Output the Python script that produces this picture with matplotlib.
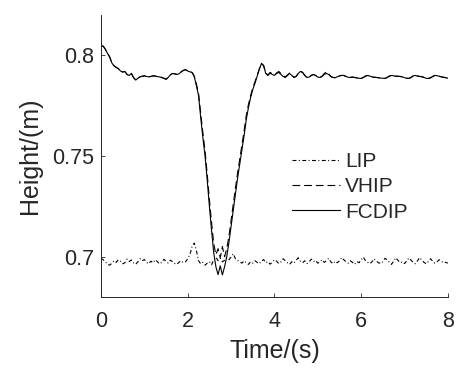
import numpy as np
import matplotlib
matplotlib.use('Agg')
import matplotlib.pyplot as plt

plt.rcParams['font.family'] = ['Liberation Sans', 'DejaVu Sans']

# time grid, 0.05 s steps from 0 to 8 s
t = np.round(np.arange(161) * 0.05, 2)

lip = [
    0.6993, 0.6985, 0.6975, 0.6962, 0.6958, 0.6968, 0.6980, 0.6972, 0.6985, 0.6978,
    0.6965, 0.6970, 0.6988, 0.6976, 0.6984, 0.6970, 0.6962, 0.6975, 0.6990, 0.6980,
    0.6986, 0.6972, 0.6965, 0.6978, 0.6970, 0.6985, 0.6976, 0.6964, 0.6972, 0.6987,
    0.6978, 0.6968, 0.6983, 0.6975, 0.6966, 0.6962, 0.6973, 0.6980, 0.6970, 0.6975,
    0.6990, 0.7010, 0.7050, 0.7068, 0.7030, 0.6980, 0.6965, 0.6972, 0.6958, 0.6968,
    0.6975, 0.6960, 0.6985, 0.6998, 0.6980, 0.6992, 0.6975, 0.6982, 0.6996, 0.6985,
    0.6998, 0.7015, 0.6990, 0.6982, 0.6975, 0.6968, 0.6980, 0.6970, 0.6962, 0.6975,
    0.6968, 0.6980, 0.6972, 0.6965, 0.6978, 0.6986, 0.6970, 0.6976, 0.6963, 0.6972,
    0.6985, 0.6978, 0.6966, 0.6974, 0.6990, 0.6980, 0.6970, 0.6962, 0.6975, 0.6968,
    0.6982, 0.6995, 0.6978, 0.6970, 0.6980, 0.6966, 0.6975, 0.6988, 0.6976, 0.6982,
    0.6968, 0.6975, 0.6985, 0.6972, 0.6980, 0.6992, 0.6975, 0.6965, 0.6978, 0.6970,
    0.6980, 0.6996, 0.6985, 0.6975, 0.6968, 0.6980, 0.6972, 0.6962, 0.6976, 0.6970,
    0.6985, 0.6998, 0.6980, 0.6972, 0.6965, 0.6975, 0.6990, 0.6978, 0.6970, 0.6966,
    0.6975, 0.6992, 0.6985, 0.6972, 0.6962, 0.6978, 0.6995, 0.6982, 0.6970, 0.6975,
    0.6966, 0.6978, 0.6994, 0.6983, 0.6972, 0.6965, 0.6980, 0.6996, 0.6982, 0.6972,
    0.6965, 0.6976, 0.6990, 0.6978, 0.6968, 0.6975, 0.6985, 0.6978, 0.6970, 0.6972,
    0.6968,
]

vhip = [
    0.8045, 0.8046, 0.8030, 0.8010, 0.7992, 0.7962, 0.7948, 0.7940, 0.7934, 0.7922,
    0.7917, 0.7920, 0.7905, 0.7900, 0.7910, 0.7890, 0.7877, 0.7886, 0.7893, 0.7896,
    0.7898, 0.7895, 0.7893, 0.7895, 0.7898, 0.7897, 0.7894, 0.7893, 0.7890, 0.7886,
    0.7881, 0.7890, 0.7903, 0.7910, 0.7908, 0.7905, 0.7908, 0.7918, 0.7925, 0.7929,
    0.7922, 0.7918, 0.7915, 0.7897, 0.7858, 0.7810, 0.7710, 0.7615, 0.7525, 0.7410,
    0.7285, 0.7170, 0.7065, 0.7010, 0.7040, 0.6995, 0.7050, 0.7000, 0.7040, 0.7100,
    0.7180, 0.7260, 0.7340, 0.7415, 0.7485, 0.7555, 0.7625, 0.7700, 0.7755, 0.7800,
    0.7838, 0.7868, 0.7900, 0.7932, 0.7960, 0.7948, 0.7912, 0.7902, 0.7915, 0.7908,
    0.7902, 0.7912, 0.7920, 0.7910, 0.7900, 0.7892, 0.7902, 0.7912, 0.7902, 0.7891,
    0.7895, 0.7910, 0.7920, 0.7915, 0.7900, 0.7890, 0.7892, 0.7900, 0.7905, 0.7900,
    0.7892, 0.7890, 0.7897, 0.7910, 0.7918, 0.7908, 0.7895, 0.7890, 0.7889, 0.7893,
    0.7898, 0.7900, 0.7900, 0.7895, 0.7891, 0.7890, 0.7892, 0.7890, 0.7888, 0.7886,
    0.7885, 0.7890, 0.7897, 0.7900, 0.7897, 0.7893, 0.7891, 0.7890, 0.7889, 0.7887,
    0.7886, 0.7885, 0.7890, 0.7897, 0.7900, 0.7898, 0.7896, 0.7896, 0.7895, 0.7893,
    0.7889, 0.7886, 0.7885, 0.7890, 0.7898, 0.7900, 0.7897, 0.7895, 0.7894, 0.7890,
    0.7886, 0.7885, 0.7888, 0.7895, 0.7900, 0.7899, 0.7896, 0.7893, 0.7891, 0.7889,
    0.7886,
]

fcdip = [
    0.8045, 0.8046, 0.8030, 0.8010, 0.7992, 0.7962, 0.7948, 0.7940, 0.7934, 0.7922,
    0.7917, 0.7920, 0.7905, 0.7900, 0.7910, 0.7890, 0.7877, 0.7886, 0.7893, 0.7896,
    0.7898, 0.7895, 0.7893, 0.7895, 0.7898, 0.7897, 0.7894, 0.7893, 0.7890, 0.7886,
    0.7881, 0.7890, 0.7903, 0.7910, 0.7908, 0.7905, 0.7908, 0.7918, 0.7925, 0.7929,
    0.7922, 0.7918, 0.7915, 0.7895, 0.7850, 0.7800, 0.7690, 0.7590, 0.7500, 0.7380,
    0.7250, 0.7130, 0.7020, 0.6950, 0.6911, 0.6955, 0.6910, 0.6950, 0.7000, 0.7070,
    0.7150, 0.7230, 0.7310, 0.7390, 0.7460, 0.7530, 0.7600, 0.7680, 0.7740, 0.7790,
    0.7830, 0.7860, 0.7895, 0.7930, 0.7959, 0.7950, 0.7910, 0.7900, 0.7912, 0.7905,
    0.7900, 0.7910, 0.7915, 0.7905, 0.7895, 0.7890, 0.7900, 0.7910, 0.7900, 0.7890,
    0.7895, 0.7910, 0.7920, 0.7915, 0.7900, 0.7890, 0.7892, 0.7900, 0.7905, 0.7900,
    0.7892, 0.7890, 0.7895, 0.7905, 0.7910, 0.7905, 0.7895, 0.7890, 0.7889, 0.7893,
    0.7898, 0.7900, 0.7900, 0.7895, 0.7891, 0.7890, 0.7892, 0.7890, 0.7888, 0.7886,
    0.7885, 0.7890, 0.7897, 0.7900, 0.7897, 0.7893, 0.7891, 0.7890, 0.7889, 0.7887,
    0.7886, 0.7885, 0.7890, 0.7897, 0.7900, 0.7898, 0.7896, 0.7896, 0.7895, 0.7893,
    0.7889, 0.7886, 0.7885, 0.7890, 0.7898, 0.7900, 0.7897, 0.7895, 0.7894, 0.7890,
    0.7886, 0.7885, 0.7888, 0.7895, 0.7900, 0.7899, 0.7896, 0.7893, 0.7891, 0.7889,
    0.7886,
]

xticks = [0, 2, 4, 6, 8]
yticks = [0.7, 0.75, 0.8]
yticklabels = ['0.7', '0.75', '0.8']

fig = plt.figure(figsize=(4.57, 3.72), dpi=100)
ax = fig.add_axes([0.221, 0.2016, 0.759, 0.758])

ax.plot(t, lip, color='k', linewidth=0.8, dashes=(3.5, 2.2, 0.9, 2.2), label='LIP')
ax.plot(t, vhip, color='k', linewidth=0.8, dashes=(7, 3.5), label='VHIP')
ax.plot(t, fcdip, linestyle='-', color='k', linewidth=0.8, label='FCDIP')

ax.set_xlim(0, 8)
ax.set_ylim(0.68, 0.82)
ax.set_xticks(xticks)
ax.set_yticks(yticks)
ax.set_yticklabels(yticklabels)
ax.tick_params(direction='in', length=3, width=0.6, labelsize=15.5, colors='#262626', pad=5)
ax.tick_params(axis='x', pad=10)
for s in ['top', 'right']:
    ax.spines[s].set_visible(False)
for s in ['left', 'bottom']:
    ax.spines[s].set_linewidth(0.7)
    ax.spines[s].set_color('#262626')

ax.set_xlabel('Time/(s)', fontsize=18, color='#262626', labelpad=5)
ax.set_ylabel('Height/(m)', fontsize=18, color='#262626', labelpad=7)

ax.legend(loc='center left', bbox_to_anchor=(0.5496, 0.391), frameon=False,
          fontsize=15, handlelength=2.32, handletextpad=0.24, labelspacing=0.3,
          borderpad=0, borderaxespad=0, labelcolor='#262626')

fig.savefig('out.png', dpi=100)
